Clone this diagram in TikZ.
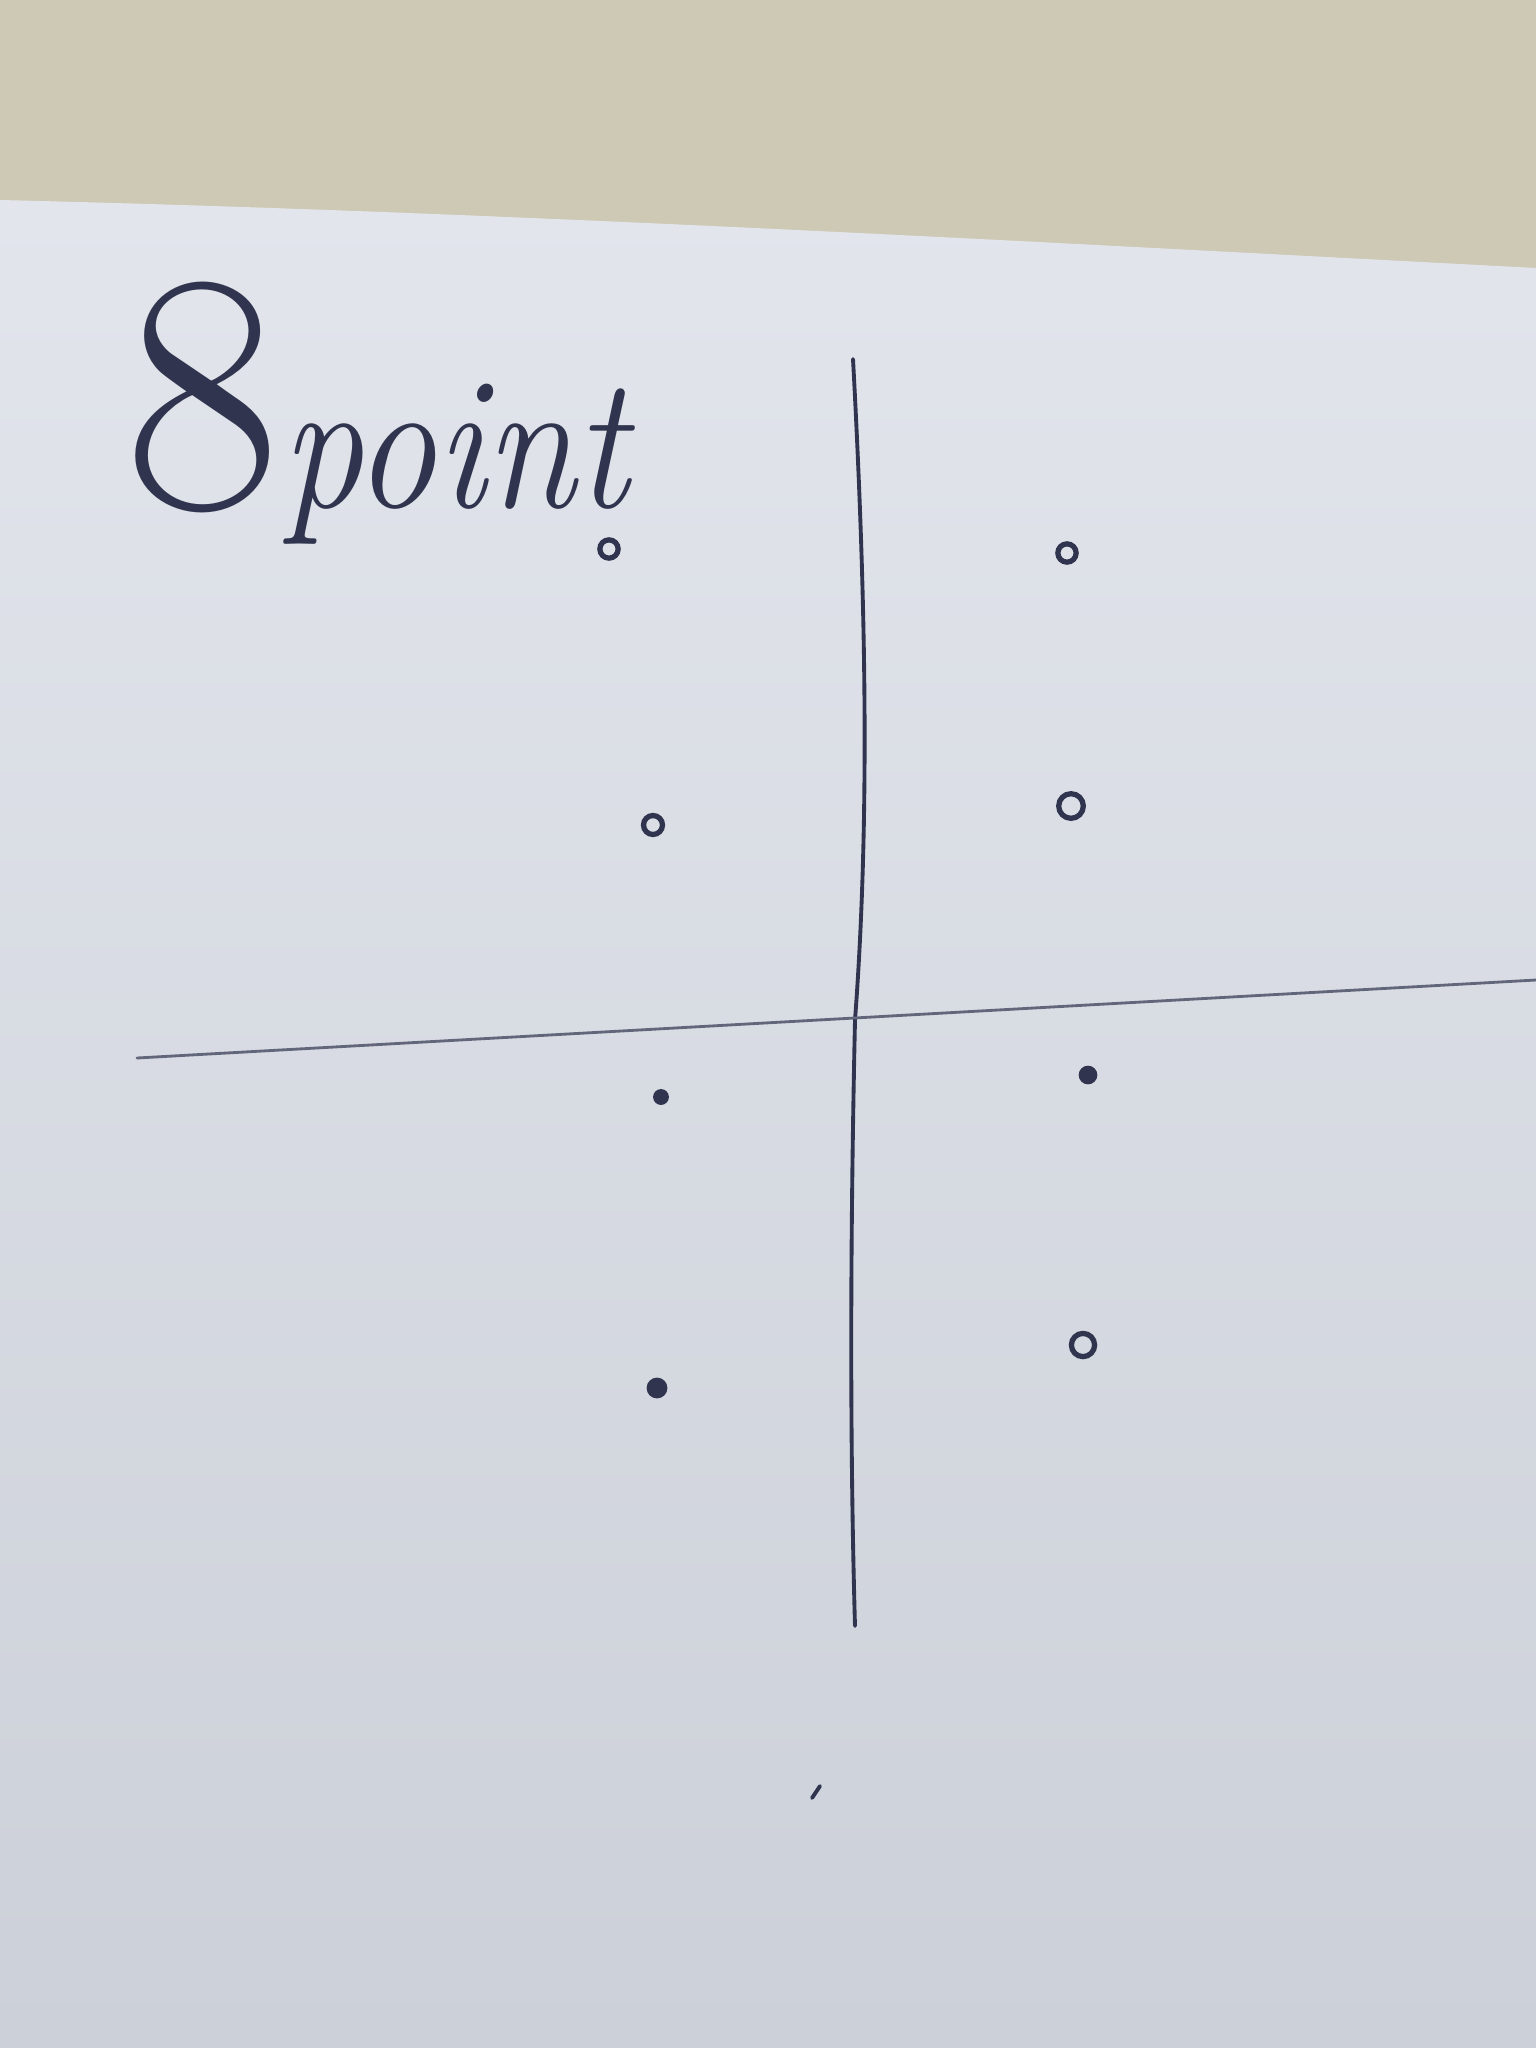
\documentclass[tikz,border=0pt]{standalone}
\definecolor{penc}{RGB}{48,52,78}
\definecolor{paper}{RGB}{214,218,226}
\definecolor{papertop}{RGB}{226,229,236}
\definecolor{paperbot}{RGB}{204,208,216}
\definecolor{wall}{RGB}{206,201,181}
\begin{document}
\begin{tikzpicture}[x=0.01cm,y=-0.01cm,
  pen/.style={draw=penc, line width=1.1pt, line cap=round, line join=round},
  faint/.style={draw=penc!70!paper, line width=0.8pt, line cap=round},
  ring/.style={circle, draw=penc, line width=1.5pt, inner sep=0pt, minimum size=#1},
  blob/.style={circle, fill=penc, draw=penc, line width=0.8pt, inner sep=0pt, minimum size=#1}]
\useasboundingbox (0,0) rectangle (1536,2048);
% background: wall and sheet of paper
\fill[wall] (0,0) rectangle (1536,2048);
\shade[top color=papertop, bottom color=paperbot]
  (0,200) .. controls (500,212) and (1000,240) .. (1536,268) -- (1536,2048) -- (0,2048) -- cycle;
% title
\node[anchor=base west, inner sep=0pt, text=penc] (title) at (124,507)
  {{\fontsize{97}{97}\selectfont 8}\scalebox{0.86}[1]{\itshape\fontsize{54}{54}\selectfont point}};
% axes
\coordinate (vtop) at (853,359);
\coordinate (vbot) at (855,1626);
\coordinate (hleft) at (137,1058);
\coordinate (hright) at (1536,980);
\draw[pen] (vtop) .. controls (866,600) and (870,820) .. (855,1020) .. controls (850,1250) and (850,1450) .. (vbot);
\draw[faint] (hleft) -- (hright);
% eight points
\node[ring=5.2pt] (p1) at (609,549) {};
\node[ring=5.2pt] (p2) at (1067,553) {};
\node[ring=5.4pt] (p3) at (653,825) {};
\node[ring=7pt] (p4) at (1071,806) {};
\node[blob=3.7pt] (p5) at (661,1097) {};
\node[blob=4.5pt] (p6) at (1088,1075) {};
\node[blob=5.1pt] (p7) at (657,1388) {};
\node[ring=6.6pt] (p8) at (1083,1345) {};
% stray pencil mark
\coordinate (s1) at (812,1798);
\coordinate (s2) at (820,1786);
\draw[pen] (s1) -- (s2);
\end{tikzpicture}
\end{document}
